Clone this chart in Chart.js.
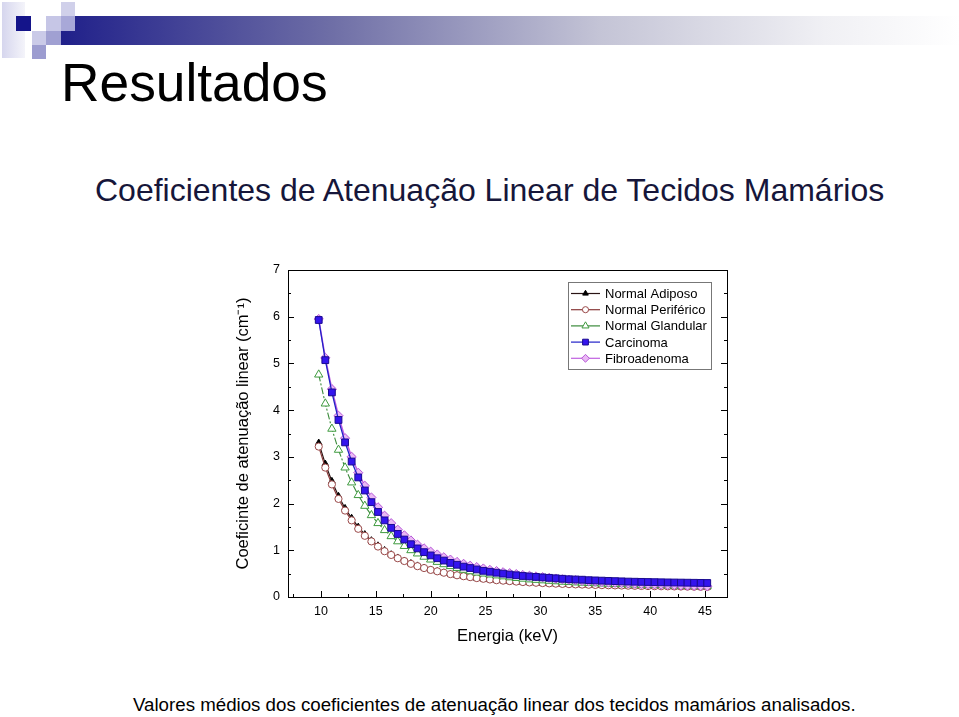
<!DOCTYPE html>
<html>
<head>
<meta charset="utf-8">
<script src="https://cdn.jsdelivr.net/npm/chart.js@4.4.0/dist/chart.umd.min.js"></script>
<style>
  body { margin: 0; width: 959px; height: 717px; background: #fff; position: relative; overflow: hidden;
         font-family: "Liberation Sans", Arial, sans-serif; }
  .sq { position: absolute; }
  #faixa { position: absolute; left: 61px; top: 16px; width: 898px; height: 29px;
           background: linear-gradient(to right, #20208a 0%, #6e6ea6 30%, #c4c4d6 60%, #f0f0f4 85%, #ffffff 100%); }
  #titulo { position: absolute; left: 61px; top: 56px; margin: 0; font-weight: normal; font-size: 53.3px; line-height: 54px; color: #000; }
  #sub { position: absolute; left: 95px; top: 174px; font-size: 32px; line-height: 32px; color: #16163a; white-space: nowrap; }
  #legenda { position: absolute; left: 133px; top: 695px; font-size: 18.7px; line-height: 19px; color: #000; white-space: nowrap; }
  #grafico { position: absolute; left: 228px; top: 253px; }
</style>
</head>
<body>
<div class="sq" style="left:2px;top:2px;width:23px;height:56px;background:linear-gradient(to right,#d6d6ee,#f4f4fa);"></div>
<div id="faixa"></div>
<div class="sq" style="left:16px;top:16px;width:15px;height:15px;background:#14148a;"></div>
<div class="sq" style="left:61px;top:2px;width:14px;height:14px;background:#d0d0ea;"></div>
<div class="sq" style="left:46px;top:16px;width:15px;height:15px;background:#c6c6e6;"></div>
<div class="sq" style="left:61px;top:16px;width:14px;height:15px;background:#a8a8d8;"></div>
<div class="sq" style="left:32px;top:31px;width:14px;height:14px;background:#cacae8;"></div>
<div class="sq" style="left:46px;top:31px;width:15px;height:14px;background:#a0a0d2;"></div>
<div class="sq" style="left:32px;top:45px;width:14px;height:14px;background:#9c9cd0;"></div>

<h1 id="titulo">Resultados</h1>
<div id="sub">Coeficientes de Atenuação Linear de Tecidos Mamários</div>
<canvas id="grafico" width="525" height="400"></canvas>
<div id="legenda">Valores médios dos coeficientes de atenuação linear dos tecidos mamários analisados.</div>

<script>
// energias (keV)
const energias = [
  9.8, 10.4, 11.0, 11.6, 12.2, 12.8, 13.4, 14.0, 14.6, 15.2,
  15.8, 16.4, 17.0, 17.6, 18.2, 18.8, 19.4, 20.0, 20.6, 21.2,
  21.8, 22.4, 23.0, 23.6, 24.2, 24.8, 25.4, 26.0, 26.6, 27.2,
  27.8, 28.4, 29.0, 29.6, 30.2, 30.8, 31.4, 32.0, 32.6, 33.2,
  33.8, 34.4, 35.0, 35.6, 36.2, 36.8, 37.4, 38.0, 38.6, 39.2,
  39.8, 40.4, 41.0, 41.6, 42.2, 42.8, 43.4, 44.0, 44.6, 45.2
];

const normalAdiposo = [
  3.30, 2.85, 2.48, 2.16, 1.90, 1.69, 1.50, 1.34, 1.21, 1.10,
  1.00, 0.91, 0.84, 0.77, 0.72, 0.67, 0.62, 0.58, 0.55, 0.52,
  0.49, 0.46, 0.44, 0.42, 0.40, 0.385, 0.37, 0.355, 0.345, 0.335,
  0.325, 0.315, 0.305, 0.298, 0.29, 0.284, 0.278, 0.272, 0.267, 0.262,
  0.258, 0.254, 0.25, 0.246, 0.243, 0.24, 0.237, 0.234, 0.231, 0.228,
  0.226, 0.224, 0.222, 0.22, 0.218, 0.216, 0.214, 0.212, 0.21, 0.208
];

const normalPeriferico = [
  3.22, 2.77, 2.41, 2.10, 1.85, 1.64, 1.46, 1.31, 1.19, 1.08,
  0.98, 0.90, 0.83, 0.77, 0.71, 0.66, 0.62, 0.58, 0.55, 0.52,
  0.49, 0.465, 0.445, 0.425, 0.405, 0.39, 0.375, 0.36, 0.35, 0.34,
  0.33, 0.32, 0.312, 0.305, 0.298, 0.292, 0.286, 0.28, 0.275, 0.27,
  0.266, 0.262, 0.258, 0.254, 0.251, 0.248, 0.245, 0.242, 0.239, 0.236,
  0.234, 0.232, 0.23, 0.228, 0.226, 0.224, 0.222, 0.22, 0.218, 0.216
];

const normalGlandular = [
  4.76, 4.14, 3.60, 3.15, 2.77, 2.45, 2.18, 1.95, 1.75, 1.58,
  1.43, 1.30, 1.19, 1.09, 1.00, 0.93, 0.86, 0.80, 0.75, 0.70,
  0.66, 0.62, 0.58, 0.55, 0.52, 0.50, 0.48, 0.46, 0.44, 0.42,
  0.405, 0.39, 0.375, 0.365, 0.355, 0.345, 0.335, 0.325, 0.318, 0.31,
  0.304, 0.298, 0.292, 0.287, 0.282, 0.277, 0.273, 0.269, 0.265, 0.262,
  0.259, 0.256, 0.253, 0.25, 0.247, 0.245, 0.243, 0.241, 0.239, 0.237
];

const carcinoma = [
  5.93, 5.07, 4.38, 3.79, 3.31, 2.90, 2.56, 2.28, 2.03, 1.82,
  1.64, 1.48, 1.35, 1.23, 1.13, 1.04, 0.96, 0.89, 0.83, 0.78,
  0.73, 0.69, 0.65, 0.62, 0.59, 0.56, 0.54, 0.52, 0.50, 0.48,
  0.465, 0.45, 0.44, 0.43, 0.42, 0.41, 0.40, 0.39, 0.38, 0.375,
  0.37, 0.36, 0.355, 0.35, 0.345, 0.34, 0.335, 0.33, 0.327, 0.324,
  0.321, 0.318, 0.315, 0.312, 0.31, 0.308, 0.306, 0.304, 0.302, 0.30
];

const fibroadenoma = [
  5.95, 5.12, 4.45, 3.88, 3.40, 3.00, 2.66, 2.38, 2.13, 1.92,
  1.74, 1.58, 1.44, 1.32, 1.21, 1.12, 1.04, 0.97, 0.91, 0.85,
  0.80, 0.75, 0.71, 0.67, 0.64, 0.61, 0.58, 0.555, 0.53, 0.51,
  0.49, 0.47, 0.455, 0.44, 0.425, 0.41, 0.395, 0.38, 0.37, 0.36,
  0.345, 0.335, 0.33, 0.32, 0.31, 0.305, 0.30, 0.29, 0.285, 0.28,
  0.275, 0.27, 0.265, 0.26, 0.255, 0.25, 0.245, 0.24, 0.235, 0.23
];

const xTicks = [10, 15, 20, 25, 30, 35, 40, 45];
const yTicks = [0, 1, 2, 3, 4, 5, 6, 7];

function pontos(valores) {
  return valores.map((v, i) => ({ x: energias[i], y: v }));
}

const fonte = '"Liberation Sans", Arial, sans-serif';

// moldura com ticks para dentro + legenda no canto
const eixoPlugin = {
  id: 'eixo',
  afterDatasetsDraw(chart) {
    const { ctx, chartArea: a, scales: { x, y } } = chart;
    ctx.save();
    ctx.strokeStyle = '#000';
    ctx.lineWidth = 1;
    ctx.strokeRect(Math.round(a.left) + 0.5, Math.round(a.top) + 0.5, Math.round(a.width), Math.round(a.height));
    ctx.beginPath();
    for (let v = 7.5; v < 47; v += 2.5) {
      const px = Math.round(x.getPixelForValue(v)) + 0.5;
      const len = v % 5 === 0 ? 6 : 3;
      ctx.moveTo(px, a.bottom);
      ctx.lineTo(px, a.bottom - len);
    }
    for (let v = 0.5; v < 7; v += 0.5) {
      const py = Math.round(y.getPixelForValue(v)) + 0.5;
      const len = v % 1 === 0 ? 6 : 3;
      ctx.moveTo(a.left, py);
      ctx.lineTo(a.left + len, py);
      ctx.moveTo(a.right, py);
      ctx.lineTo(a.right - len, py);
    }
    ctx.stroke();
    ctx.restore();
  },
  afterDraw(chart) {
    const { ctx } = chart;
    const bx = 340.5, by = 29.5, bw = 143, bh = 87;
    ctx.save();
    ctx.fillStyle = '#fff';
    ctx.fillRect(bx, by, bw, bh);
    ctx.strokeStyle = '#777';
    ctx.lineWidth = 1;
    ctx.strokeRect(bx, by, bw, bh);
    ctx.font = '13px ' + fonte;
    ctx.textBaseline = 'middle';
    chart.data.datasets.forEach((ds, i) => {
      const cy = 40.5 + i * 16.2;
      ctx.strokeStyle = ds.borderColor;
      ctx.lineWidth = 1.2;
      ctx.setLineDash([]);
      ctx.beginPath();
      ctx.moveTo(343, cy);
      ctx.lineTo(372, cy);
      ctx.stroke();
      ctx.fillStyle = ds.pointBackgroundColor;
      ctx.strokeStyle = ds.pointBorderColor;
      ctx.lineWidth = 1;
      Chart.helpers.drawPoint(ctx, { pointStyle: ds.pointStyle, radius: ds.pointRadius * 0.85, rotation: 0, borderWidth: 1 }, 357.5, cy);
      ctx.fillStyle = '#000';
      ctx.fillText(ds.label, 377, cy + 1);
    });
    ctx.restore();
  }
};

new Chart(document.getElementById('grafico'), {
  type: 'scatter',
  data: {
    datasets: [
      {
        label: 'Normal Adiposo', data: pontos(normalAdiposo), showLine: true, order: 5,
        borderColor: '#2a1414', borderWidth: 1.2,
        pointStyle: 'triangle', pointRadius: 3.8,
        pointBackgroundColor: '#000', pointBorderColor: '#000', pointBorderWidth: 1
      },
      {
        label: 'Normal Periférico', data: pontos(normalPeriferico), showLine: true, order: 4,
        borderColor: '#8a3a3a', borderWidth: 1.2,
        pointStyle: 'circle', pointRadius: 3.6,
        pointBackgroundColor: '#fff', pointBorderColor: '#9a4848', pointBorderWidth: 1
      },
      {
        label: 'Normal Glandular', data: pontos(normalGlandular), showLine: true, order: 3,
        borderColor: '#3a8a3a', borderWidth: 1.1, borderDash: [7, 2, 2, 2],
        pointStyle: 'triangle', pointRadius: 4.8,
        pointBackgroundColor: '#fff', pointBorderColor: '#3e9a3e', pointBorderWidth: 1
      },
      {
        label: 'Carcinoma', data: pontos(carcinoma), showLine: true, order: 1,
        borderColor: '#2020c8', borderWidth: 1.3,
        pointStyle: 'rect', pointRadius: 4.8,
        pointBackgroundColor: '#3414ee', pointBorderColor: '#1a0a90', pointBorderWidth: 1
      },
      {
        label: 'Fibroadenoma', data: pontos(fibroadenoma), showLine: true, order: 2,
        borderColor: '#c060e0', borderWidth: 1.5,
        pointStyle: 'rectRot', pointRadius: 4.6,
        pointBackgroundColor: '#eab8f4', pointBorderColor: '#b456d6', pointBorderWidth: 1
      }
    ]
  },
  options: {
    responsive: false,
    animation: false,
    layout: { padding: { left: 0, right: 26, top: 17, bottom: 0 } },
    plugins: { legend: { display: false }, tooltip: { enabled: false } },
    scales: {
      x: {
        type: 'linear', min: 7, max: 47,
        grid: { display: false, drawTicks: false },
        border: { display: false },
        afterBuildTicks: s => { s.ticks = xTicks.map(v => ({ value: v })); },
        afterFit: s => { s.height = 56; },
        ticks: { padding: 7, color: '#000', font: { family: fonte, size: 12.5 }, maxRotation: 0 },
        title: { display: true, text: 'Energia (keV)', color: '#000', padding: { top: 0, bottom: 7 },
                 font: { family: fonte, size: 16.5 } }
      },
      y: {
        type: 'linear', min: 0, max: 7,
        grid: { display: false, drawTicks: false },
        border: { display: false },
        afterBuildTicks: s => { s.ticks = yTicks.map(v => ({ value: v })); },
        afterFit: s => { s.width = 60; },
        ticks: { padding: 8, color: '#000', font: { family: fonte, size: 12.5 } },
        title: { display: true, text: 'Coeficinte de atenuação linear (cm⁻¹)', color: '#000',
                 padding: { top: 6, bottom: 0 }, font: { family: fonte, size: 16.5 } }
      }
    }
  },
  plugins: [eixoPlugin]
});
</script>
</body>
</html>
